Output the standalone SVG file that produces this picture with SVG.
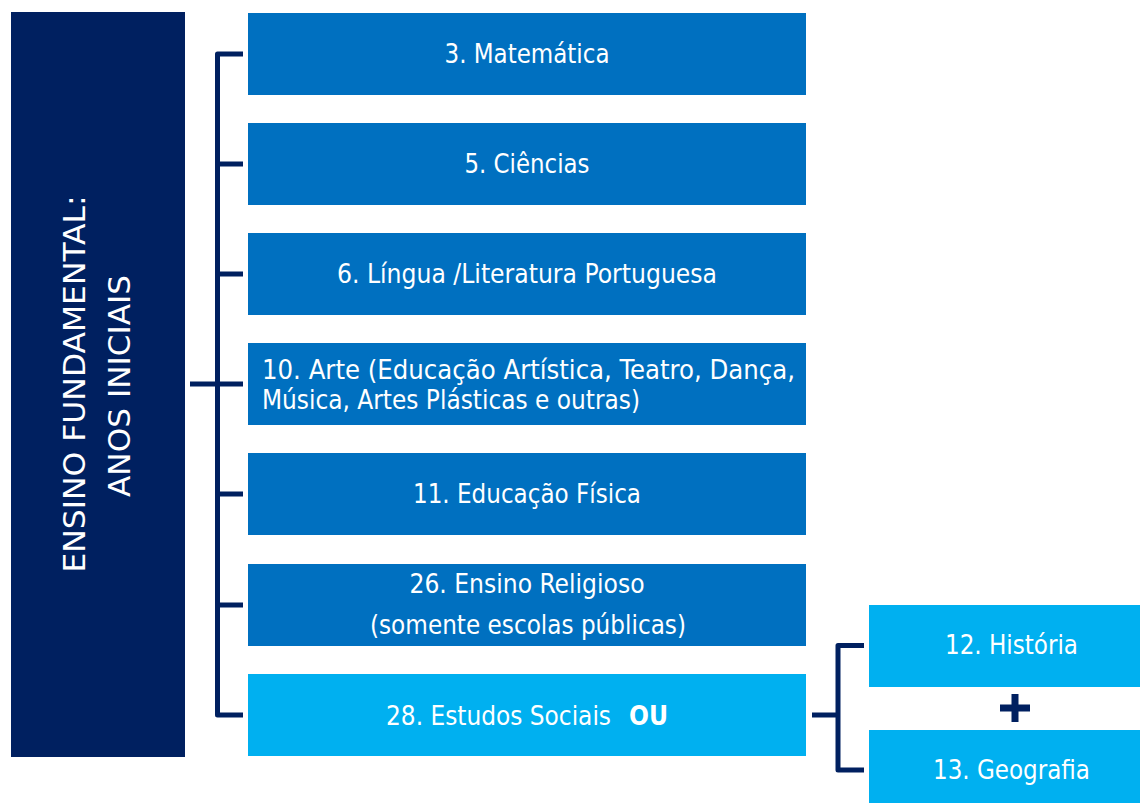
<svg xmlns="http://www.w3.org/2000/svg" width="1140" height="803" viewBox="0 0 1140 803">
<style>
.dark{fill:#002060}
.mid{fill:#0070C0}
.light{fill:#00B0F0}
.t{fill:#ffffff;font-family:"DejaVu Sans","Liberation Sans",sans-serif;font-stretch:condensed;font-size:27px}
.c{text-anchor:middle}
.v{fill:#ffffff;font-family:"DejaVu Sans","Liberation Sans",sans-serif;font-stretch:condensed;font-size:31px;text-anchor:middle}
.ln{fill:none;stroke:#002060;stroke-width:5;stroke-linejoin:round}
</style>
<rect width="1140" height="803" fill="#ffffff"/>
<g id="connectors">
<path class="ln" d="M243 54 H217.5 V715 H243"/>
<path class="ln" d="M217.5 164 H243 M217.5 274 H243 M190 384 H243 M217.5 494 H243 M217.5 605 H243"/>
<path class="ln" d="M864 645.5 H838 V770 H864 M812 715 H838"/>
</g>
<g id="root">
<rect class="dark" x="11" y="12" width="174" height="745"/>
<text class="v" transform="translate(85,384) rotate(-90)" textLength="377" lengthAdjust="spacingAndGlyphs">ENSINO FUNDAMENTAL:</text>
<text class="v" transform="translate(130,386) rotate(-90)" textLength="222" lengthAdjust="spacingAndGlyphs">ANOS INICIAIS</text>
</g>
<g id="n3">
<rect class="mid" x="248" y="13" width="558" height="82"/>
<text class="t c" x="527" y="63" textLength="165" lengthAdjust="spacingAndGlyphs">3. Matemática</text>
</g>
<g id="n5">
<rect class="mid" x="248" y="123" width="558" height="82"/>
<text class="t c" x="527" y="173" textLength="125" lengthAdjust="spacingAndGlyphs">5. Ciências</text>
</g>
<g id="n6">
<rect class="mid" x="248" y="233" width="558" height="82"/>
<text class="t c" x="527" y="283" textLength="380" lengthAdjust="spacingAndGlyphs">6. Língua /Literatura Portuguesa</text>
</g>
<g id="n10">
<rect class="mid" x="248" y="343" width="558" height="82"/>
<text class="t" x="262" y="379" textLength="533" lengthAdjust="spacingAndGlyphs">10. Arte (Educação Artística, Teatro, Dança,</text>
<text class="t" x="262" y="409" textLength="378" lengthAdjust="spacingAndGlyphs">Música, Artes Plásticas e outras)</text>
</g>
<g id="n11">
<rect class="mid" x="248" y="453" width="558" height="82"/>
<text class="t c" x="527" y="503" textLength="228" lengthAdjust="spacingAndGlyphs">11. Educação Física</text>
</g>
<g id="n26">
<rect class="mid" x="248" y="564" width="558" height="82"/>
<text class="t c" x="527" y="593" textLength="235" lengthAdjust="spacingAndGlyphs">26. Ensino Religioso</text>
<text class="t c" x="528" y="634" textLength="316" lengthAdjust="spacingAndGlyphs">(somente escolas públicas)</text>
</g>
<g id="n28">
<rect class="light" x="248" y="674" width="558" height="82"/>
<text class="t" x="386" y="725"><tspan textLength="225" lengthAdjust="spacingAndGlyphs">28. Estudos Sociais</tspan><tspan x="629" font-weight="bold" textLength="39" lengthAdjust="spacingAndGlyphs">OU</tspan></text>
</g>
<g id="n12">
<rect class="light" x="869" y="605" width="271" height="82"/>
<text class="t c" x="1011.5" y="654" textLength="133" lengthAdjust="spacingAndGlyphs">12. História</text>
</g>
<g id="plus">
<path d="M1000 708 H1030 M1015 694 V722" stroke="#002060" stroke-width="7" fill="none"/>
</g>
<g id="n13">
<rect class="light" x="869" y="730" width="271" height="73"/>
<text class="t c" x="1011.5" y="779" textLength="157" lengthAdjust="spacingAndGlyphs">13. Geografia</text>
</g>
</svg>
